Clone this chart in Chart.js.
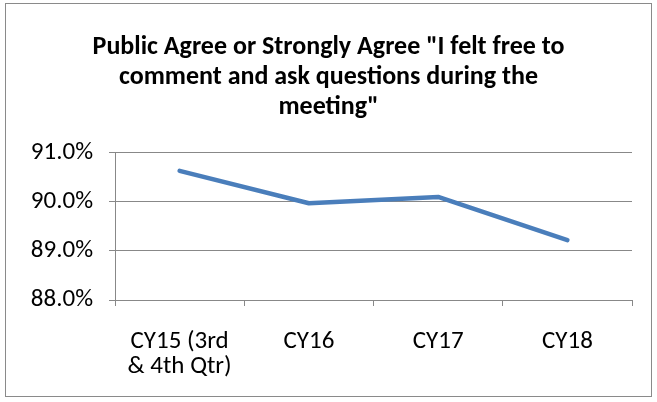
<!DOCTYPE html>
<html>
<head>
<meta charset="utf-8">
<script src="https://cdn.jsdelivr.net/npm/chart.js@4/dist/chart.umd.min.js"></script>
<style>
  html, body { margin: 0; padding: 0; background: #fff; }
  #box {
    position: absolute; left: 5px; top: 3px;
    width: 645px; height: 392px;
    border: 1px solid #8a8a8a;
  }
  #chart { display: block; }
</style>
</head>
<body>
<div id="box"><canvas id="chart" width="645" height="392"></canvas></div>
<script>
// 数据
const categories = [['CY15 (3rd', '& 4th Qtr)'], 'CY16', 'CY17', 'CY18'];
const agreeValues = [90.63, 89.97, 90.10, 89.22];
const chartTitle = ['Public Agree or Strongly Agree "I felt free to', 'comment and ask questions during the', 'meeting"'];

const fontFamily = 'Carlito, Calibri, Lato, "Liberation Sans", sans-serif';
Chart.defaults.font.family = fontFamily;
Chart.defaults.color = '#000';

const ctx = document.getElementById('chart').getContext('2d');
new Chart(ctx, {
  type: 'line',
  data: {
    labels: categories,
    datasets: [{
      data: agreeValues,
      borderColor: '#4a7ebb',
      borderWidth: 4.5,
      borderCapStyle: 'round',
      borderJoinStyle: 'round',
      pointRadius: 0,
      tension: 0,
      fill: false
    }]
  },
  options: {
    responsive: false,
    animation: false,
    layout: { padding: { left: 19, right: 19, top: 14, bottom: -6 } },
    plugins: {
      legend: { display: false },
      tooltip: { enabled: false },
      title: {
        display: true,
        text: chartTitle,
        font: { size: 26, weight: 'bold', lineHeight: 1.15 },
        padding: { top: 15, bottom: 30 }
      }
    },
    scales: {
      x: {
        offset: true,
        grid: {
          offset: true,
          drawOnChartArea: false,
          drawTicks: true,
          tickLength: 6,
          color: '#888'
        },
        border: { color: '#888', width: 1 },
        ticks: { font: { size: 25, lineHeight: 1.0 }, padding: 23, maxRotation: 0 }
      },
      y: {
        min: 88,
        max: 91,
        grid: { color: '#888', lineWidth: 1, tickLength: 6 },
        border: { color: '#888', width: 1 },
        afterFit: s => { s.width = 90; },
        ticks: {
          stepSize: 1,
          font: { size: 25 },
          padding: 16,
          callback: v => v.toFixed(1) + '%'
        }
      }
    }
  }
});
</script>
</body>
</html>
